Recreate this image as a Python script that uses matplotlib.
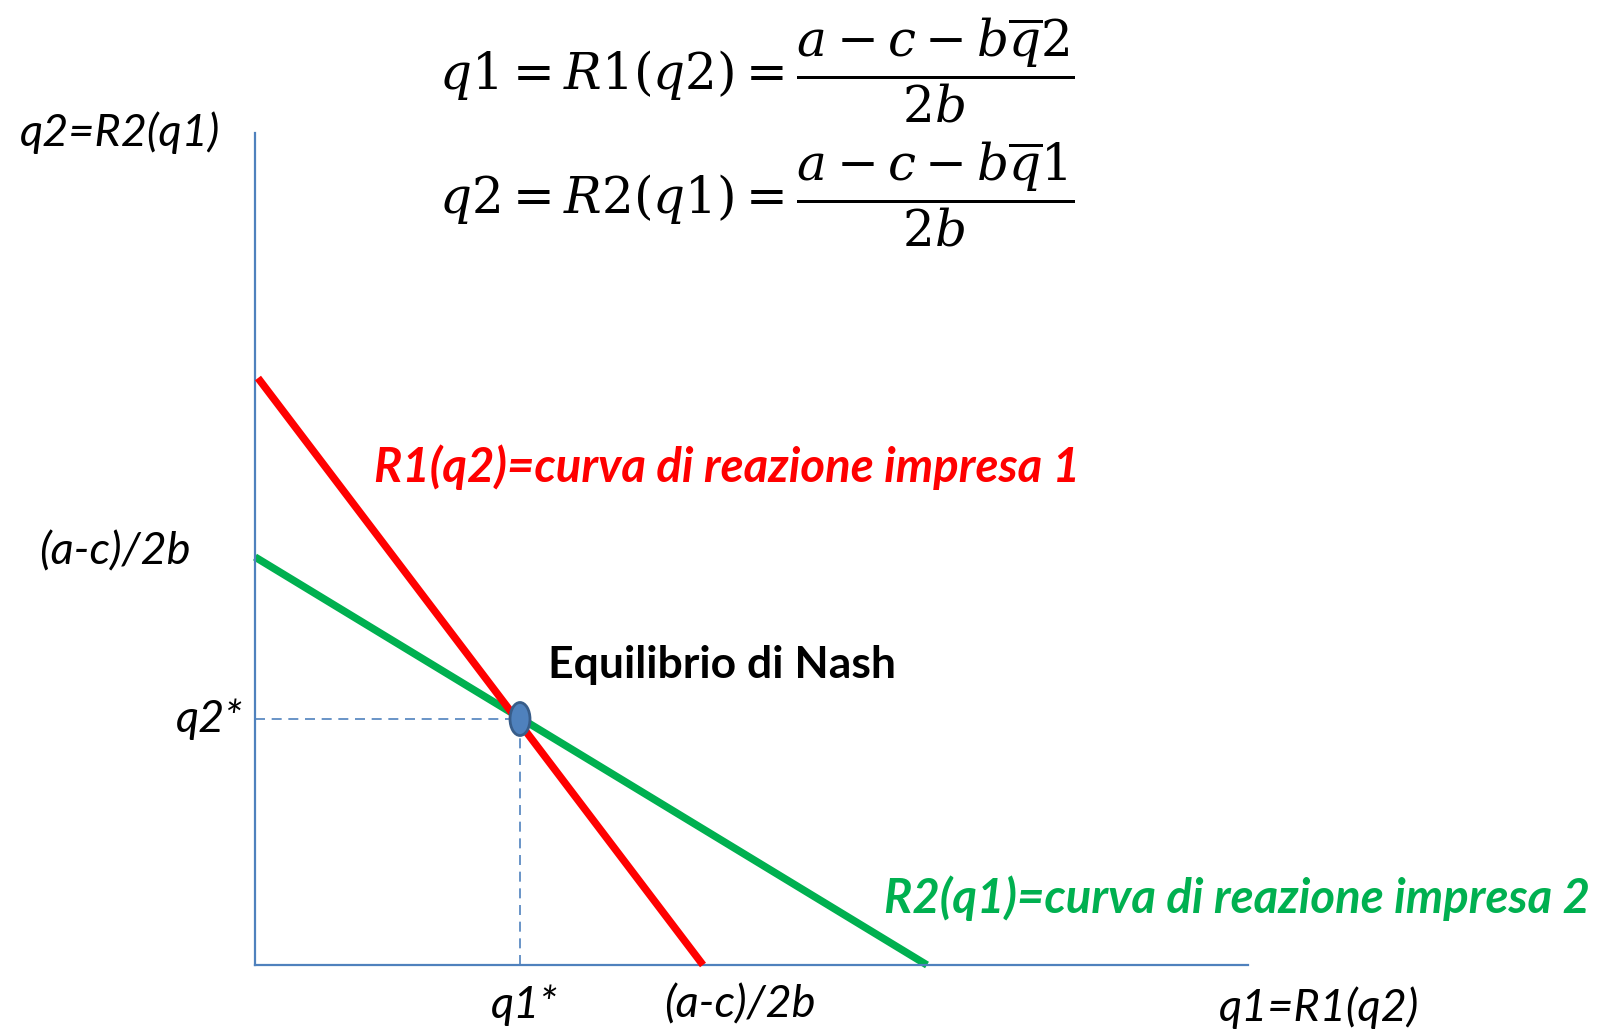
import matplotlib
matplotlib.use('Agg')
import matplotlib.pyplot as plt
from matplotlib.patches import Ellipse

# reaction curves, as (q1, q2) end points
r1_q1 = [0.03, 4.48]
r1_q2 = [5.87, 0.0]
r2_q1 = [0.0, 6.72]
r2_q2 = [4.08, 0.0]

# Nash equilibrium
q1_star = 2.65
q2_star = 2.46

x_max = 9.93
y_max = 8.32

RED = '#ff0000'
GREEN = '#00b050'
BLUE = '#4f81bd'
FONT = 'Lato'

W, H = 1600, 1031
plt.rcParams['mathtext.fontset'] = 'dejavuserif'

fig = plt.figure(figsize=(W / 100, H / 100), dpi=100)
ax = fig.add_axes([255 / W, (H - 965) / H, (1248 - 255) / W, (965 - 133) / H])
ax.set_xlim(0, x_max)
ax.set_ylim(0, y_max)
for side in ['top', 'right']:
    ax.spines[side].set_visible(False)
for side in ['left', 'bottom']:
    ax.spines[side].set_color(BLUE)
    ax.spines[side].set_linewidth(1.6)
ax.set_xticks([])
ax.set_yticks([])
ax.patch.set_alpha(0)

ax.plot(r1_q1, r1_q2, color=RED, lw=5.4, solid_capstyle='butt', clip_on=False, zorder=3)
ax.plot(r2_q1, r2_q2, color=GREEN, lw=5.4, solid_capstyle='butt', clip_on=False, zorder=2)

# guides from the axes to the equilibrium
ax.plot([0, q1_star], [q2_star, q2_star], color=BLUE, lw=1.2, ls=(0, (6, 4)), zorder=1)
ax.plot([q1_star, q1_star], [0, q2_star], color=BLUE, lw=1.2, ls=(0, (6, 4)), zorder=1)

ax.add_patch(Ellipse((q1_star, q2_star), 0.20, 0.33, facecolor=BLUE,
                     edgecolor='#385d8a', lw=2, zorder=5))


def px(x, y):
    return x / W, 1 - y / H


label_kw = dict(family=FONT, style='italic', fontsize=32.5, color='black')

fig.text(*px(20, 133), 'q2=R2(q1)', ha='left', va='center', **label_kw)
fig.text(*px(1219, 1008), 'q1=R1(q2)', ha='left', va='center', **label_kw)
fig.text(*px(191, 552), '(a-c)/2b', ha='right', va='center', **label_kw)
fig.text(*px(243, 719), 'q2*', ha='right', va='center', **label_kw)
fig.text(*px(524, 1005), 'q1*', ha='center', va='center', **label_kw)
fig.text(*px(740, 1005), '(a-c)/2b', ha='center', va='center', **label_kw)

fig.text(*px(374, 467), 'R1(q2)=curva di reazione impresa 1', ha='left', va='center',
         family=FONT, style='italic', weight='bold', fontsize=34, color=RED)
fig.text(*px(884, 898), 'R2(q1)=curva di reazione impresa 2', ha='left', va='center',
         family=FONT, style='italic', weight='bold', fontsize=34, color=GREEN)
fig.text(*px(548, 665), 'Equilibrio di Nash', ha='left', va='center',
         family=FONT, weight='bold', fontsize=32, color='black')

fig.text(*px(439, 70), r'$q1 = R1(q2) = \dfrac{a - c - b\overline{q}2}{2b}$',
         ha='left', va='center', fontsize=36)
fig.text(*px(439, 194), r'$q2 = R2(q1) = \dfrac{a - c - b\overline{q}1}{2b}$',
         ha='left', va='center', fontsize=36)

fig.savefig('out.png', dpi=100)
